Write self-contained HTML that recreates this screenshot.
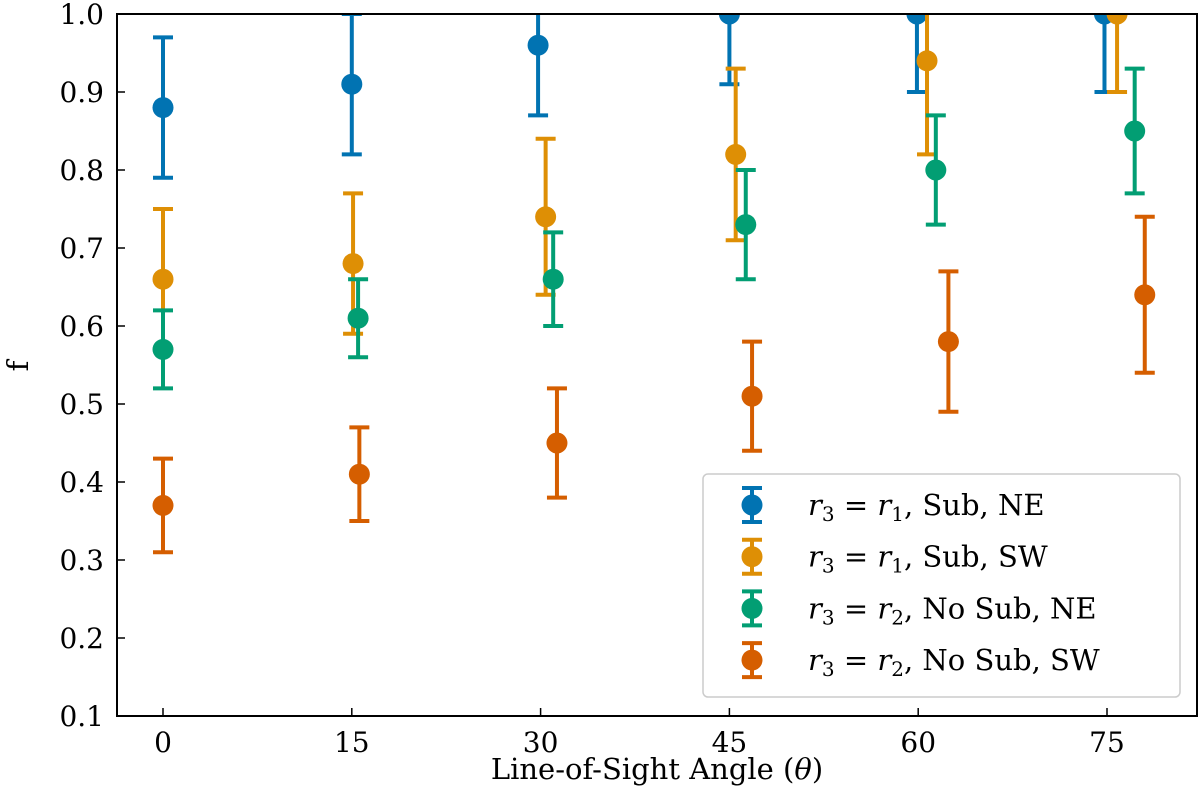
<!DOCTYPE html>
<html><head><meta charset="utf-8"><style>
html,body{margin:0;padding:0;background:#fff}
svg{display:block;font-family:"DejaVu Serif","Liberation Serif",serif}
</style></head><body>
<svg width="1200" height="810" xmlns="http://www.w3.org/2000/svg">
<defs><clipPath id="pc"><rect x="117" y="14" width="1080" height="702"/></clipPath></defs>
<g id="marks" clip-path="url(#pc)"></g>
<rect x="117" y="14" width="1080" height="702" fill="none" stroke="#000" stroke-width="2"/>
<g id="axes"></g>
<text x="657" y="779" font-size="29" text-anchor="middle">Line-of-Sight Angle (<tspan font-style="italic">θ</tspan>)</text>
<text x="0" y="0" font-size="29" text-anchor="middle" transform="translate(28,366) rotate(-90)">f</text>
<g>
<rect x="703" y="474" width="477" height="223" rx="5" fill="#fff" stroke="#ccc" stroke-width="1.5"/>
<g id="legend"></g>
</g>
</svg>
<script>
const xTicks=[0,15,30,45,60,75];
const yTicks=[0.1,0.2,0.3,0.4,0.5,0.6,0.7,0.8,0.9,1.0];
const seriesNames=["r3=r1 Sub NE","r3=r1 Sub SW","r3=r2 No Sub NE","r3=r2 No Sub SW"];
const colors=["#0173b2","#de8f05","#029e73","#d55e00"];
const blueX=[0,15,29.8,45,59.9,74.8];
const blueY=[0.88,0.91,0.96,1.00,1.00,1.00];
const blueErr=[0.09,0.09,0.09,0.09,0.10,0.10];
const orangeX=[0,15.1,30.4,45.5,60.7,75.8];
const orangeY=[0.66,0.68,0.74,0.82,0.94,1.00];
const orangeErr=[0.09,0.09,0.10,0.11,0.12,0.10];
const greenX=[0,15.5,31,46.3,61.4,77.2];
const greenY=[0.57,0.61,0.66,0.73,0.80,0.85];
const greenErr=[0.05,0.05,0.06,0.07,0.07,0.08];
const redX=[0,15.6,31.3,46.8,62.4,78.0];
const redY=[0.37,0.41,0.45,0.51,0.58,0.64];
const redErr=[0.06,0.06,0.07,0.07,0.09,0.10];

const NS="http://www.w3.org/2000/svg";
const xs=v=>163+v*(944/75);
const ys=v=>716-(v-0.1)*(702/0.9);
function mk(t,a,p){const e=document.createElementNS(NS,t);for(const k in a)e.setAttribute(k,a[k]);p.appendChild(e);return e;}
const axes=document.getElementById('axes');
xTicks.forEach(t=>{
  const l=mk('line',{x1:xs(t),x2:xs(t),y1:716,y2:708,stroke:'#000','stroke-width':1.5},axes);
  
  
  const tx=mk('text',{x:xs(t),y:752,'font-size':28,'text-anchor':'middle'},axes);tx.textContent=t;
  
  
});
yTicks.forEach(t=>{
  const l=mk('line',{x1:117,x2:125,y1:ys(t),y2:ys(t),stroke:'#000','stroke-width':1.5},axes);
  
  
  const tx=mk('text',{x:104,y:ys(t)+10,'font-size':28,'text-anchor':'end'},axes);tx.textContent=t.toFixed(1);
  
  
});
const S=[[blueX,blueY,blueErr],[orangeX,orangeY,orangeErr],[greenX,greenY,greenErr],[redX,redY,redErr]];
const marks=document.getElementById('marks');
S.forEach((s,i)=>{
  const g=mk('g',{},marks);
  
  
  s[0].forEach((xv,j)=>{
    const x=xs(xv),y=s[1][j],e=s[2][j],c=colors[i];
    const y1=ys(y+e),y2=ys(y-e);
    const eb=mk('path',{d:`M${x},${y1}V${y2}M${x-10},${y1}H${x+10}M${x-10},${y2}H${x+10}`,stroke:c,'stroke-width':4,fill:'none'},g);
    
    
    const p=mk('circle',{cx:x,cy:ys(y),r:10.5,fill:c},g);
    
    
  });
});
const labs=[["1","Sub, NE"],["1","Sub, SW"],["2","No Sub, NE"],["2","No Sub, SW"]];
const leg=document.getElementById('legend');
labs.forEach((l,i)=>{
  const y=505+i*51.7,c=colors[i];
  const g=mk('g',{},leg);
  
  
  mk('path',{d:`M752,${y-17}V${y+17}M742,${y-17}H762M742,${y+17}H762`,stroke:c,'stroke-width':4},g);
  mk('circle',{cx:752,cy:y,r:10.5,fill:c},g);
  const t=mk('text',{x:808,y:y+10,'font-size':29},g);
  t.innerHTML=`<tspan font-style="italic">r</tspan><tspan font-size="20" dy="6">3</tspan><tspan dy="-6"> = </tspan><tspan font-style="italic">r</tspan><tspan font-size="20" dy="6">${l[0]}</tspan><tspan dy="-6">, ${l[1]}</tspan>`;
});
</script>
</body></html>
